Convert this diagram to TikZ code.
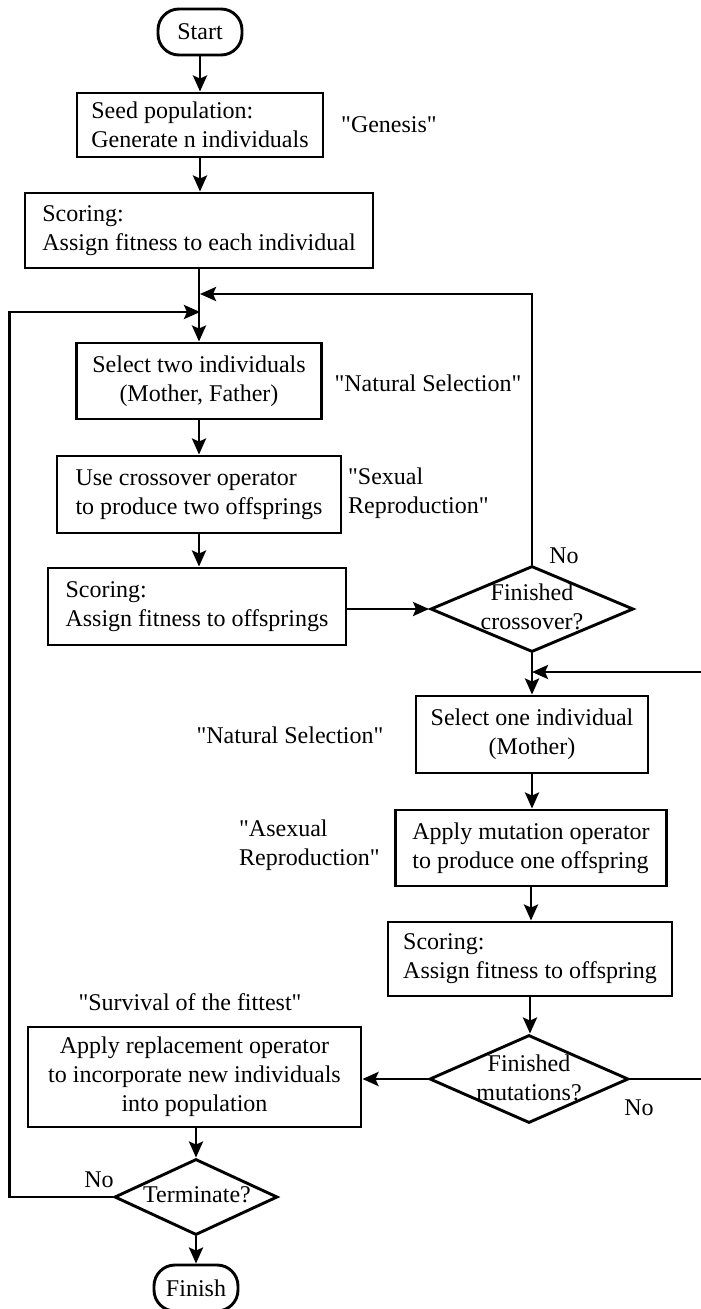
\documentclass[tikz,border=0pt]{standalone}
\usepackage{fontspec}
\setmainfont{Liberation Serif}[Ligatures=TeXOff]
\usetikzlibrary{arrows.meta,shapes.geometric}
\begin{document}
\begin{tikzpicture}[x=1pt,y=-1pt,
  every node/.style={font=\fontsize{24}{29}\selectfont, inner sep=0pt},
  box/.style={draw, line width=2.9pt, align=left},
  cbox/.style={draw, line width=2.9pt, align=center},
  term/.style={draw, line width=2.9pt, rounded corners=21pt, minimum width=84pt, minimum height=46pt},
  dec/.style={draw, diamond, line width=2.9pt, inner sep=0pt},
  note/.style={align=left},
  flow/.style={line width=2.9pt, -{Stealth[length=16pt,width=14pt,inset=3pt]}},
]
\useasboundingbox (0,0) rectangle (701,1309);

% main column: initial population and crossover loop
\node[term] (start) at (200,32) {Start};
\node[box, minimum width=246pt, minimum height=64pt] (seed) at (200,125) {Seed population:\\Generate n individuals};
\node (genesis) at (389,125) {"Genesis"};
\node[box, minimum width=348pt, minimum height=75pt] (score1) at (199,230.5) {Scoring:\\Assign fitness to each individual};
\node[cbox, minimum width=245pt, minimum height=76pt] (sel2) at (199,381) {Select two individuals\\(Mother, Father)};
\node (natsel1) at (428,383) {"Natural Selection"};
\node[box, minimum width=284pt, minimum height=77pt] (cross) at (199,494.5) {Use crossover operator\\to produce two offsprings};
\node[note, anchor=west] (sexual) at (348,493.5) {"Sexual\\Reproduction"};
\node[box, minimum width=298pt, minimum height=77pt] (score2) at (197,606.5) {Scoring:\\Assign fitness to offsprings};
\node[dec, minimum width=203pt, minimum height=86pt] (dcross) at (532,609) {};
\node[align=center] (dcrosstxt) at (532,607) {Finished\\crossover?};
\node (nocross) at (564,556) {No};

% right column: mutation loop
\node[cbox, minimum width=232pt, minimum height=77pt] (sel1) at (532,734.5) {Select one individual\\(Mother)};
\node (natsel2) at (290,735) {"Natural Selection"};
\node[box, minimum width=271pt, minimum height=76pt] (mut) at (531,848) {Apply mutation operator\\to produce one offspring};
\node[note, anchor=west] (asexual) at (239,845) {"Asexual\\Reproduction"};
\node[box, minimum width=284pt, minimum height=74pt] (score3) at (530,959) {Scoring:\\Assign fitness to offspring};
\node[dec, minimum width=199pt, minimum height=88pt] (dmut) at (529,1079) {};
\node[align=center] (dmuttxt) at (529,1078) {Finished\\mutations?};
\node (nomut) at (639,1108) {No};

% replacement and termination
\node (survival) at (190,1002) {"Survival of the fittest"};
\node[cbox, minimum width=333pt, minimum height=100pt] (repl) at (194.5,1077) {Apply replacement operator\\to incorporate new individuals\\into population};
\node[dec, minimum width=163pt, minimum height=76pt] (dterm) at (196,1197) {};
\node (dtermtxt) at (197,1195) {Terminate?};
\node (noterm) at (99,1180) {No};
\node[term] (finish) at (196,1288) {Finish};

% merge points on the flow lines and the return rail past the right edge
\coordinate (mergeA) at (200,294);
\coordinate (mergeB) at (200,312);
\coordinate (mergeC) at (532,672);
\coordinate (rightrail) at (712,0);

\draw[flow] (start.south) -- (start.south |- seed.north);
\draw[flow] (seed.south) -- (seed.south |- score1.north);
\draw[flow] (score1.south) -- (score1.south |- sel2.north);
\draw[flow] (sel2.south) -- (sel2.south |- cross.north);
\draw[flow] (cross.south) -- (cross.south |- score2.north);
\draw[flow] (score2.east |- dcross.west) -- (dcross.west);
\draw[flow] (dcross.north) |- (mergeA);
\draw[flow] (dcross.south) -- (dcross.south |- sel1.north);
\draw[flow] (sel1.south) -- (sel1.south |- mut.north);
\draw[flow] (mut.south) -- (mut.south |- score3.north);
\draw[flow] (score3.south) -- (score3.south |- dmut.north);
\draw[flow] (dmut.east) -- (dmut.east -| rightrail) |- (mergeC);
\draw[flow] (dmut.west) -- (dmut.west -| repl.east);
\draw[flow] (dterm.north |- repl.south) -- (dterm.north);
\draw[flow] (dterm.west) -- ++(-104,0) |- (mergeB);
\draw[flow] (dterm.south) -- (dterm.south |- finish.north);
\end{tikzpicture}
\end{document}
